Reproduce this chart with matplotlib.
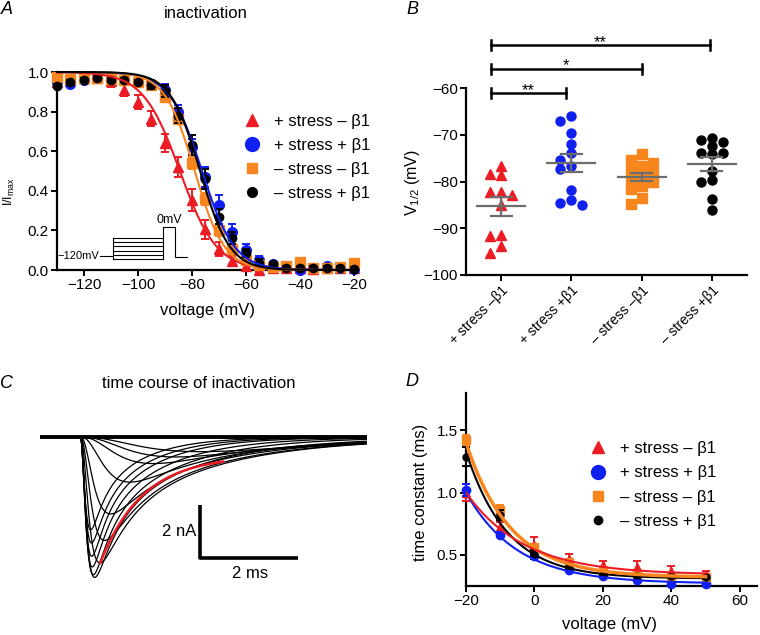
import numpy as np
import matplotlib
matplotlib.use('Agg')
import matplotlib.pyplot as plt
from matplotlib.lines import Line2D

plt.rcParams['font.family'] = ['Liberation Sans', 'DejaVu Sans']
plt.rcParams['mathtext.fontset'] = 'custom'
plt.rcParams['mathtext.rm'] = 'Liberation Sans'
plt.rcParams['mathtext.it'] = 'Liberation Sans:italic'

RED, BLUE, ORANGE, BLACK, GREY = '#ec1c24', '#1020f0', '#f7861f', '#000000', '#6d6d6d'
colors = [RED, BLUE, ORANGE, BLACK]
markers = ['^', 'o', 's', 'o']
labels = ['+ stress \u2013 \u03b21', '+ stress + \u03b21', '\u2013 stress \u2013 \u03b21', '\u2013 stress + \u03b21']
short_labels = ['+ stress \u2013\u03b21', '+ stress +\u03b21', '\u2013 stress \u2013\u03b21', '\u2013 stress +\u03b21']

# ---- panel A: steady-state inactivation
volt_a = [-130, -125, -120, -115, -110, -105, -100, -95, -90, -85, -80, -75,
          -70, -65, -60, -55, -50, -45, -40, -35, -30, -25, -20]
inact_red = [0.95, 0.96, 0.97, 0.97, 0.955, 0.91, 0.85, 0.765, 0.64, 0.52, 0.355, 0.205,
             0.105, 0.045, 0.02, 0.0, 0.01, 0.01, 0.01, 0.005, 0.01, 0.01, 0.01]
inact_blue = [0.95, 0.94, 0.958, 0.97, 0.97, 0.96, 0.955, 0.94, 0.91, 0.8, 0.62, 0.47,
              0.33, 0.19, 0.1, 0.05, 0.03, 0.02, 0.0, 0.01, 0.02, 0.01, 0.005]
inact_orange = [0.975, 0.965, 0.97, 0.97, 0.965, 0.96, 0.95, 0.935, 0.875, 0.765, 0.54, 0.36,
                0.2, 0.105, 0.05, 0.025, 0.015, 0.02, 0.04, 0.01, 0.01, 0.015, 0.035]
inact_black = [0.93, 0.95, 0.96, 0.97, 0.96, 0.96, 0.95, 0.935, 0.905, 0.78, 0.63, 0.46,
               0.27, 0.16, 0.085, 0.035, 0.03, 0.01, 0.01, 0.01, 0.01, 0.01, 0.005]
err_red = [0.02, 0.02, 0.02, 0.02, 0.03, 0.03, 0.035, 0.04, 0.045, 0.05, 0.055, 0.05,
           0.035, 0.025, 0.02, 0.01, 0.01, 0.01, 0.01, 0.01, 0.01, 0.01, 0.01]
err_blue = [0.01, 0.01, 0.01, 0.01, 0.01, 0.01, 0.01, 0.02, 0.03, 0.035, 0.04, 0.05,
            0.05, 0.04, 0.03, 0.02, 0.01, 0.01, 0.01, 0.01, 0.01, 0.01, 0.01]
err_orange = [0.01, 0.01, 0.01, 0.01, 0.01, 0.01, 0.01, 0.02, 0.02, 0.03, 0.03, 0.03,
              0.03, 0.02, 0.02, 0.01, 0.01, 0.01, 0.01, 0.01, 0.01, 0.01, 0.01]
err_black = [0.01, 0.01, 0.01, 0.01, 0.01, 0.01, 0.01, 0.02, 0.03, 0.04, 0.05, 0.05,
             0.04, 0.03, 0.02, 0.02, 0.01, 0.01, 0.01, 0.01, 0.01, 0.01, 0.01]
vhalf_a = [-84.5, -76.3, -79.0, -77.0]
slope_a = [6.8, 6.0, 5.5, 5.5]

# ---- panel B: V1/2 per cell
v12_red = [-76.75, -78.7, -78.5, -82.3, -82.3, -82.8, -85.1, -91.5, -91.7, -93.8, -95.2]
v12_blue = [-65.9, -67.0, -69.7, -71.9, -73.8, -75.4, -76.6, -77.4, -81.9, -83.9, -85.0, -84.5]
v12_orange = [-75.3, -76.0, -74.2, -76.6, -78.0, -77.6, -79.8, -81.0, -81.7, -83.6, -84.8, -78.8, -80.0]
v12_black = [-71.1, -71.6, -70.8, -72.5, -73.8, -74.1, -73.8, -77.7, -79.6, -80.0, -83.7, -86.1]
sig_pairs = [(0, 1), (0, 2), (0, 3)]
sig_text = ['**', '*', '**']

# ---- panel C: current traces (peak nA, time to peak ms, fast / slow decay tau ms)
amp_c = [0.55, 0.75, 1.0, 1.7, 2.9, 3.9, 4.75, 5.3, 5.2, 4.9, 4.5, 4.0, 3.5]
tpk_c = [2.45, 1.95, 1.5, 1.02, 0.62, 0.5, 0.41, 0.30, 0.27, 0.25, 0.24, 0.23, 0.22]
tau_fast_c = [1.2, 1.1, 1.0, 0.9, 0.8, 0.7, 0.6, 0.45, 0.35, 0.3, 0.26, 0.24, 0.22]
tau_slow_c = [3.0, 2.8, 2.6, 2.5, 2.4, 2.3, 2.2, 1.8, 1.5, 1.3, 1.1, 1.0, 0.9]
slow_frac = 0.45
fit_trace = 6
fit_amp, fit_tau, fit_offset, fit_end = 4.05, 0.87, 0.7, 2.92

# ---- panel D: time constants
volt_d = [-20, -10, 0, 10, 20, 30, 40, 50]
tau_red = [1.0, 0.72, 0.58, 0.47, 0.42, 0.40, 0.37, 0.35]
tau_blue = [1.02, 0.66, 0.49, 0.38, 0.33, 0.30, 0.27, 0.265]
tau_orange = [1.42, 0.86, 0.56, 0.44, 0.38, 0.35, 0.33, 0.32]
tau_black = [1.29, 0.82, 0.51, 0.41, 0.35, 0.33, 0.33, 0.32]
tauerr_red = [0.07, 0.04, 0.06, 0.04, 0.03, 0.05, 0.04, 0.02]
tauerr_blue = [0.05, 0.02, 0.02, 0.01, 0.01, 0.01, 0.01, 0.01]
tauerr_orange = [0.04, 0.04, 0.03, 0.02, 0.02, 0.02, 0.02, 0.02]
tauerr_black = [0.08, 0.04, 0.03, 0.02, 0.02, 0.01, 0.01, 0.01]
fit_a0 = [1.0, 1.0, 1.4, 1.33]
fit_k = [17.0, 15.0, 13.0, 12.0]
fit_c = [0.34, 0.27, 0.32, 0.31]

W, H = 760, 635
fig = plt.figure(figsize=(W / 100, H / 100), dpi=100)


def px_rect(l, t, r, b):
    return [l / W, 1 - b / H, (r - l) / W, (b - t) / H]


def ftext(x, y, s, **kw):
    fig.text(x / W, 1 - y / H, s, **kw)


def style_axes(ax):
    for side in ['top', 'right']:
        ax.spines[side].set_visible(False)
    for side in ['left', 'bottom']:
        ax.spines[side].set_linewidth(1.6)
    ax.tick_params(direction='out', length=4, width=1.4, labelsize=11, pad=2)


def swarm(vals, step=0.157, ypx=4.675, xpx=70.3, dmin=8.5):
    # simple 3-column beeswarm
    placed = []
    offs = np.zeros(len(vals))
    for idx in np.argsort(-np.asarray(vals)):
        best, best_d = 0, -1
        for cand in [0, -1, 1]:
            d = min([np.hypot((cand - c) * step * xpx, (vals[idx] - v) * ypx) for c, v in placed] + [99])
            if d >= dmin:
                best = cand
                break
            if d > best_d:
                best, best_d = cand, d
        placed.append((best, vals[idx]))
        offs[idx] = best * step
    return offs


# ================= A
axA = fig.add_axes(px_rect(57, 72, 358, 270))
style_axes(axA)
inact = [inact_red, inact_blue, inact_orange, inact_black]
errs = [err_red, err_blue, err_orange, err_black]
msA = [7, 7, 6.5, 6]
for i in range(4):
    axA.errorbar(volt_a, inact[i], yerr=errs[i], fmt=markers[i], color=colors[i], ms=msA[i],
                 capsize=3, elinewidth=1.4, capthick=1.4, clip_on=False, zorder=3 + i)
vv = np.linspace(-130, -20, 400)
for i in [1, 0, 2, 3]:
    axA.plot(vv, 1 / (1 + np.exp((vv - vhalf_a[i]) / slope_a[i])), color=colors[i], lw=1.5,
             zorder=8, clip_on=False)
axA.set_xlim(-130, -18.5)
axA.set_ylim(0, 1.0)
axA.set_xticks([-120, -100, -80, -60, -40, -20])
axA.set_yticks([0, 0.2, 0.4, 0.6, 0.8, 1.0])
axA.set_yticklabels(['0.0', '0.2', '0.4', '0.6', '0.8', '1.0'])
# voltage protocol sketch
lw_p = 0.8
for lv in [0.162, 0.141, 0.120, 0.098, 0.077, 0.056]:
    axA.plot([-109.3, -90.7], [lv, lv], color='k', lw=lw_p)
axA.plot([-114.1, -109.3], [0.071, 0.071], color='k', lw=lw_p)
axA.plot([-109.3, -109.3], [0.056, 0.162], color='k', lw=lw_p)
axA.plot([-90.7, -90.7, -86.3, -86.3, -82.0], [0.056, 0.217, 0.217, 0.066, 0.066], color='k', lw=lw_p)
axA.text(-114.4, 0.071, '\u2212120mV', fontsize=8, ha='right', va='center')
axA.text(-88.5, 0.222, '0mV', fontsize=9, ha='center', va='bottom')
handlesA = [Line2D([], [], ls='', marker=markers[i], color=colors[i], ms=[8, 10, 7, 7][i]) for i in range(4)]
axA.legend(handlesA, labels, loc='upper left', bbox_to_anchor=(0.62, 0.79), frameon=False,
           fontsize=12, handlelength=1.0, handletextpad=0.8, labelspacing=0.55,
           borderaxespad=0, borderpad=0)

ftext(7, 10, 'A', fontsize=13, style='italic', ha='center', va='center')
ftext(206, 13, 'inactivation', fontsize=12, ha='center', va='center')
ftext(207, 310, 'voltage (mV)', fontsize=12, ha='center', va='center')
ftext(9, 192, 'I/I$_{\\mathrm{max}}$', fontsize=9, ha='center', va='center', rotation=90)

# ================= B
axB = fig.add_axes(px_rect(466, 88, 747, 275))
style_axes(axB)
groups = [v12_red, v12_blue, v12_orange, v12_black]
for i, g in enumerate(groups):
    xs = i + swarm(g)
    axB.plot(xs, g, ls='', marker=markers[i], color=colors[i], ms=6.5, clip_on=False, zorder=3)
    m = np.mean(g)
    sem = np.std(g, ddof=1) / np.sqrt(len(g))
    axB.plot([i - 0.34, i + 0.34], [m, m], color=GREY, lw=1.6, zorder=4)
    axB.plot([i, i], [m - sem, m + sem], color=GREY, lw=1.6, zorder=4)
    axB.plot([i - 0.15, i + 0.15], [m + sem, m + sem], color=GREY, lw=1.6, zorder=4)
    axB.plot([i - 0.15, i + 0.15], [m - sem, m - sem], color=GREY, lw=1.6, zorder=4)
bar_y = [-61.1, -55.9, -50.8]
bar_right = [0.93, 2.0, 2.97]
for (a, b), s, y, r in zip(sig_pairs, sig_text, bar_y, bar_right):
    l = a - 0.15
    axB.plot([l, r], [y, y], color='k', lw=1.8, clip_on=False)
    axB.plot([l, l], [y - 1.1, y + 1.1], color='k', lw=1.8, clip_on=False)
    axB.plot([r, r], [y - 1.1, y + 1.1], color='k', lw=1.8, clip_on=False)
    axB.text((l + r) / 2, y - 1.0, s, fontsize=12, ha='center', va='bottom')
axB.set_xlim(-0.5, 3.5)
axB.set_ylim(-100, -60)
axB.set_yticks([-100, -90, -80, -70, -60])
axB.set_xticks(range(4))
axB.set_xticklabels(short_labels, rotation=45, ha='right', rotation_mode='anchor', fontsize=10)
ftext(412, 10, 'B', fontsize=13, style='italic', ha='center', va='center')
ftext(413, 183, 'V$_{1/2}$ (mV)', fontsize=11.5, ha='center', va='center', rotation=90)

# ================= C
axC = fig.add_axes(px_rect(40, 400, 367, 600))
axC.set_axis_off()
tc = np.linspace(-0.82, 5.86, 1600)
tpos = np.clip(tc, 0, None)
cands = np.linspace(0.01, 2.0, 400)
traces = []
for amp, tp, tf_, ts_ in zip(amp_c, tpk_c, tau_fast_c, tau_slow_c):
    h = (1 - slow_frac) * np.exp(-tpos / tf_) + slow_frac * np.exp(-tpos / ts_)
    peaks = np.array([tc[np.argmax((1 - np.exp(-tpos / tm)) ** 3 * h)] for tm in cands])
    tm = cands[np.argmin(np.abs(peaks - tp))]
    f = (1 - np.exp(-tpos / tm)) ** 3 * h
    f = -f / f.max() * amp
    traces.append(f)
    axC.plot(tc, f, color='k', lw=0.9)
axC.plot([tc[0], tc[-1]], [0, 0], color='k', lw=2.8, solid_capstyle='butt')
tf = np.linspace(tpk_c[fit_trace], fit_end, 200)
axC.plot(tf, -(fit_offset + fit_amp * np.exp(-(tf - tpk_c[fit_trace]) / fit_tau)), color=RED, lw=1.8)
axC.plot([2.45, 2.45, 4.45], [-2.57, -4.57, -4.57], color='k', lw=2.6, solid_capstyle='butt')
axC.text(2.37, -3.55, '2 nA', fontsize=12, ha='right', va='center')
axC.text(3.47, -4.85, '2 ms', fontsize=12, ha='center', va='top')
axC.set_xlim(-0.82, 5.86)
axC.set_ylim(-6.15, 1.4)
ftext(7, 383, 'C', fontsize=13, style='italic', ha='center', va='center')
ftext(199, 383, 'time course of inactivation', fontsize=12, ha='center', va='center')

# ================= D
axD = fig.add_axes(px_rect(466, 393, 757, 586))
style_axes(axD)
taus = [tau_red, tau_blue, tau_orange, tau_black]
tauerrs = [tauerr_red, tauerr_blue, tauerr_orange, tauerr_black]
msD = [6, 6, 6, 5]
for i in range(4):
    axD.errorbar(volt_d, taus[i], yerr=tauerrs[i], fmt=markers[i], color=colors[i], ms=msD[i],
                 capsize=3, elinewidth=1.4, capthick=1.4, clip_on=False, zorder=3 + i)
vd = np.linspace(-20, 50, 300)
lwD = [1.5, 1.5, 2.5, 1.5]
for i in [1, 3, 2, 0]:
    axD.plot(vd, fit_c[i] + (fit_a0[i] - fit_c[i]) * np.exp(-(vd + 20) / fit_k[i]),
             color=colors[i], lw=lwD[i], zorder=8)
axD.set_xlim(-20, 65)
axD.set_ylim(0.25, 1.8)
axD.set_xticks([-20, 0, 20, 40, 60])
axD.set_yticks([0.5, 1.0, 1.5])
axD.set_yticklabels(['0.5', '1.0', '1.5'])
handlesD = [Line2D([], [], ls='', marker=markers[i], color=colors[i], ms=[8, 10, 7, 6][i]) for i in range(4)]
axD.legend(handlesD, labels, loc='upper left', bbox_to_anchor=(0.425, 0.75), frameon=False,
           fontsize=12, handlelength=1.0, handletextpad=0.8, labelspacing=0.55,
           borderaxespad=0, borderpad=0)
ftext(412, 381, 'D', fontsize=13, style='italic', ha='center', va='center')
ftext(610, 625, 'voltage (mV)', fontsize=12, ha='center', va='center')
ftext(420, 492, 'time constant (ms)', fontsize=12, ha='center', va='center', rotation=90)

fig.savefig('out.png', dpi=100)
